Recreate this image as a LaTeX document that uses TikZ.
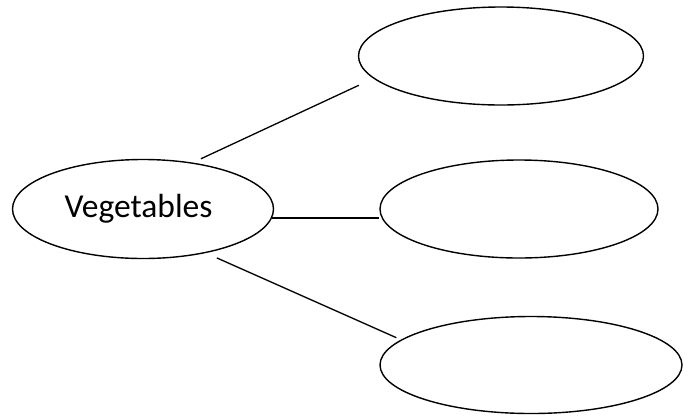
\documentclass[tikz,border=0pt]{standalone}
\usepackage{fontspec}
\setmainfont{Carlito}
\usepackage{tikz}
\usetikzlibrary{shapes.geometric}

\begin{document}
\begin{tikzpicture}[x=1pt, y=1pt,
  bubble/.style={ellipse, draw, line width=1.4pt, inner sep=0pt},
  link/.style={line width=1.3pt}]
  \useasboundingbox (0,0) rectangle (693,-416);
  % centre bubble and the three empty ones
  \node[bubble, minimum width=261, minimum height=99,
        font=\fontsize{33.5}{40}\selectfont] (veg) at (143,-209) {\kern-9pt Vegetables};
  \node[bubble, minimum width=285, minimum height=98] (top) at (501,-56) {};
  \node[bubble, minimum width=278, minimum height=98] (mid) at (519,-209) {};
  \node[bubble, minimum width=302, minimum height=97] (bot) at (531,-365) {};
  % spokes, slightly short of the bubbles
  \draw[link, shorten <=9pt, shorten >=16pt] (veg.43) -- (top.190);
  \draw[link] (veg.-4) -- (veg.-4 -| mid.west);
  \draw[link, shorten <=12pt, shorten >=5pt] (veg.-35) -- (bot.169);
\end{tikzpicture}
\end{document}
